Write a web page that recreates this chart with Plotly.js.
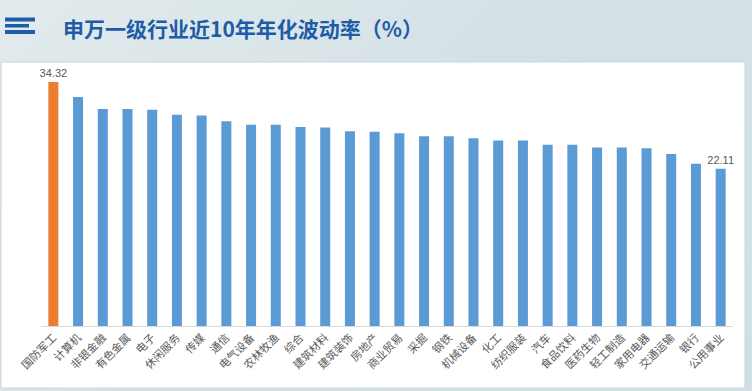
<!DOCTYPE html>
<html>
<head>
<meta charset="utf-8">
<script src="https://cdn.plot.ly/plotly-3.0.1.min.js"></script>
<style>
html,body{margin:0;padding:0;}
body{width:752px;height:391px;background:linear-gradient(135deg,#e2ebed 0%,#d5e2e5 45%,#cfdfe2 100%);}
#chart{width:752px;height:391px;}
</style>
</head>
<body>
<div id="chart"></div>
<script>
// ---- data ----
const industries = ["国防军工","计算机","非银金融","有色金属","电子","休闲服务","传媒","通信","电气设备","农林牧渔","综合","建筑材料","建筑装饰","房地产","商业贸易","采掘","钢铁","机械设备","化工","纺织服装","汽车","食品饮料","医药生物","轻工制造","家用电器","交通运输","银行","公用事业"];
const volatility = [34.32,32.2,30.5,30.5,30.4,29.7,29.6,28.8,28.3,28.3,28.0,27.9,27.4,27.3,27.1,26.7,26.7,26.4,26.1,26.1,25.5,25.5,25.1,25.1,25.0,24.2,22.8,22.11];
const titleText = "申万一级行业近10年年化波动率（%）";

// ---- layout helpers (pixel -> paper) ----
const L = 41, R = 733, T = 70, B = 326;
const px = x => (x - L) / (R - L);
const py = y => (B - y) / (B - T);

const colors = volatility.map((v, i) => i === 0 ? "#ED7D31" : "#5B9BD5");
const labels = volatility.map((v, i) => (i === 0 || i === volatility.length - 1) ? v.toFixed(2) : "");

const trace = {
  type: "bar",
  x: industries,
  y: volatility,
  marker: {color: colors},
  text: labels,
  textposition: "outside",
  constraintext: "none",
  textfont: {family: "Liberation Sans, Arial, sans-serif", size: 11, color: "#595959"},
  cliponaxis: false,
  hoverinfo: "x+y"
};

const iconColor = "#1F5CA8";
const rect = (x0, y0, x1, y1, fill, line) => ({
  type: "rect", xref: "paper", yref: "paper", layer: "below",
  x0: px(x0), x1: px(x1), y0: py(y1), y1: py(y0),
  fillcolor: fill, line: line || {width: 0}
});

const layout = {
  width: 752, height: 391,
  margin: {l: L, r: 752 - R, t: T, b: 391 - B},
  paper_bgcolor: "rgba(0,0,0,0)",
  plot_bgcolor: "rgba(0,0,0,0)",
  showlegend: false,
  bargap: 0.595,
  title: {
    text: "<b>" + titleText + "</b>",
    xref: "container", yref: "container",
    x: 63 / 752, xanchor: "left",
    y: 1 - 30 / 391, yanchor: "middle",
    font: {family: "Noto Sans CJK SC, sans-serif", size: 21, color: "#1F5CA8"}
  },
  xaxis: {
    type: "category",
    tickangle: -45,
    showline: true, linecolor: "#D9D9D9", linewidth: 1,
    ticks: "", showgrid: false, zeroline: false,
    tickfont: {family: "Noto Sans CJK SC, sans-serif", size: 11, color: "#595959"},
    fixedrange: true
  },
  yaxis: {
    range: [0, 36],
    visible: false,
    showgrid: false, zeroline: false,
    fixedrange: true
  },
  shapes: [
    rect(1, 62, 745, 388, "#FFFFFF", {color: "#C9D6DA", width: 1}),
    rect(5, 17.5, 35, 21.5, iconColor),
    rect(5, 24, 29, 27.5, iconColor),
    rect(5, 30, 35, 34, iconColor)
  ]
};

Plotly.newPlot("chart", [trace], layout, {displayModeBar: false, staticPlot: true});
</script>
</body>
</html>
